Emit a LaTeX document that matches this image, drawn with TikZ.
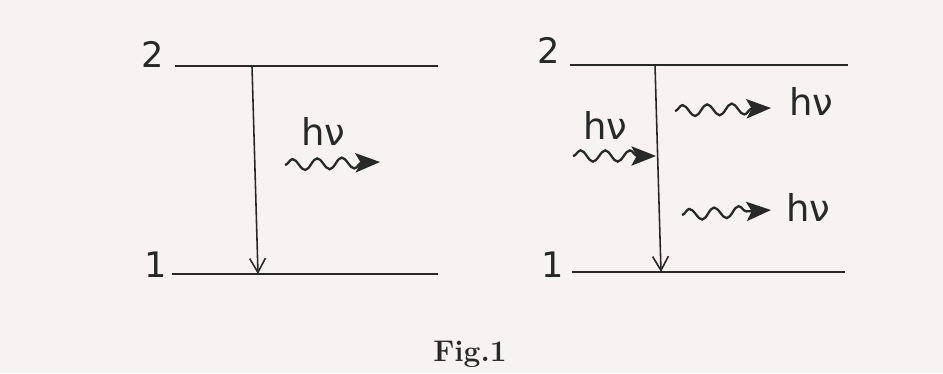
\documentclass[tikz,border=0pt]{standalone}
\usepackage{fontspec}
\setsansfont{DejaVu Sans}
\usetikzlibrary{arrows.meta,decorations.pathmorphing}
\definecolor{paper}{RGB}{247,243,243}
\definecolor{ink}{RGB}{40,40,40}
\begin{document}
\begin{tikzpicture}[x=0.02cm,y=-0.02cm,
  level/.style={draw=ink,line width=1.3pt},
  trans/.style={draw=ink,line width=0.9pt,-{Straight Barb[length=8pt,width=9pt]}},
  photon/.style={draw=ink,line width=1.3pt,decorate,
     decoration={snake,amplitude=3.2pt,segment length=14pt,post length=10pt},
     -{Stealth[length=14pt,width=11pt,inset=3pt]}},
  lab/.style={text=ink,font=\sffamily\fontsize{20}{22}\selectfont,inner sep=0pt},
  hv/.style={text=ink,font=\sffamily\fontsize{21}{24}\selectfont,inner sep=0pt}]
\fill[paper] (0,0) rectangle (943,373);
\useasboundingbox (0,0) rectangle (943,373);
% left diagram
\coordinate (L2a) at (175,66); \coordinate (L2b) at (438,66);
\coordinate (L1a) at (172,274); \coordinate (L1b) at (438,274);
\draw[level] (L2a) -- (L2b);
\draw[level] (L1a) -- (L1b);
\node[lab] (l2) at (153,54) {2};
\node[lab] (l1) at (156,265) {1};
\coordinate (Lt) at (252,66); \coordinate (Lb) at (258,274);
\draw[trans] (Lt) -- (Lb);
\node[hv] (hvL) at (323,131) {hν};
\coordinate (pLa) at (285,165); \coordinate (pLb) at (380,162);
\draw[photon] (pLa) -- (pLb);
% right diagram
\coordinate (R2a) at (570,65); \coordinate (R2b) at (848,65);
\coordinate (R1a) at (572,272); \coordinate (R1b) at (845,272);
\draw[level] (R2a) -- (R2b);
\draw[level] (R1a) -- (R1b);
\node[lab] (r2) at (549,50) {2};
\node[lab] (r1) at (553,265) {1};
\coordinate (Rt) at (655,65); \coordinate (Rb) at (661,272);
\draw[trans] (Rt) -- (Rb);
\node[hv] (hvin) at (605,125) {hν};
\coordinate (pIa) at (573,156); \coordinate (pIb) at (656,156);
\draw[photon] (pIa) -- (pIb);
\coordinate (pOa) at (675,111); \coordinate (pOb) at (771,108);
\draw[photon] (pOa) -- (pOb);
\node[hv] (hvo1) at (811,101) {hν};
\coordinate (pPa) at (682,215); \coordinate (pPb) at (771,210);
\draw[photon] (pPa) -- (pPb);
\node[hv] (hvo2) at (808,207) {hν};
% caption
\node[text=ink,font=\bfseries\fontsize{17}{19}\selectfont] (cap) at (470,354) {Fig.1};
\end{tikzpicture}
\end{document}
